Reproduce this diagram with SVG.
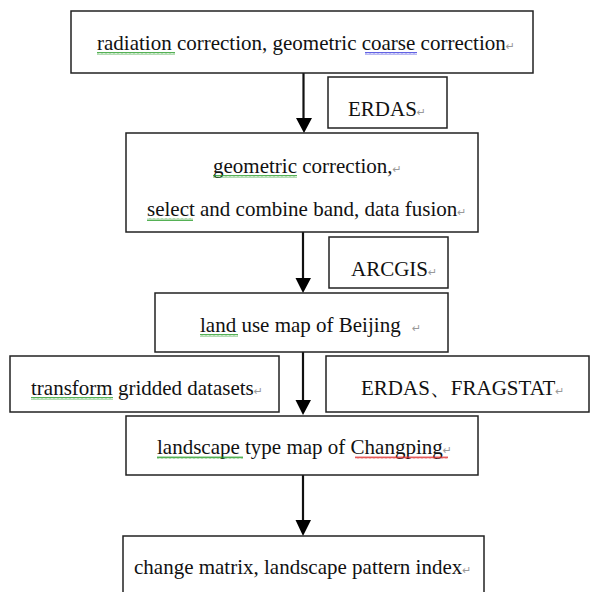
<svg xmlns="http://www.w3.org/2000/svg" width="590" height="592" viewBox="0 0 590 592">
<defs>
<style>
.box{fill:#fff;stroke:#222;stroke-width:1.5}
.t{font-family:"Liberation Serif","Times New Roman",serif;font-size:21px;fill:#111}
.pm{font-family:"DejaVu Sans",sans-serif;font-size:11px;fill:#999}
.ln{stroke:#111;stroke-width:2.2;fill:none}
</style>
<marker id="ah" viewBox="0 0 16 16" refX="8" refY="16" markerWidth="16" markerHeight="16" markerUnits="userSpaceOnUse" orient="auto">
<path d="M0,0 L16,0 L8,16 Z" fill="#000" transform="rotate(-90 8 8)"/>
</marker>
<pattern id="wg" width="4" height="3" patternUnits="userSpaceOnUse"><polyline points="0,2.5 1,0.5 2,2.5 3,0.5 4,2.5" fill="none" stroke="#2a9d2a" stroke-width="0.8"/></pattern>
<pattern id="wb" width="4" height="3" patternUnits="userSpaceOnUse"><polyline points="0,2.5 1,0.5 2,2.5 3,0.5 4,2.5" fill="none" stroke="#3b3bdd" stroke-width="0.8"/></pattern>
<pattern id="wr" width="4" height="3" patternUnits="userSpaceOnUse"><polyline points="0,2.5 1,0.5 2,2.5 3,0.5 4,2.5" fill="none" stroke="#e03030" stroke-width="0.8"/></pattern>
</defs>
<rect width="590" height="592" fill="#fff"/>

<g id="connectors">
<line class="ln" x1="303.5" y1="73" x2="303.5" y2="120"/><path d="M296,118 L312,118 L304,133 Z" fill="#000"/>
<line class="ln" x1="303" y1="232" x2="303" y2="280"/><path d="M295.5,278 L311,278 L303,293 Z" fill="#000"/>
<line class="ln" x1="303" y1="352" x2="303" y2="402"/><path d="M295.5,400 L311,400 L303,415 Z" fill="#000"/>
<line class="ln" x1="303" y1="475" x2="303" y2="522"/><path d="M295.5,520 L311,520 L303,536 Z" fill="#000"/>
</g>

<g id="n1">
<rect class="box" x="71" y="11" width="462" height="62"/>
<text class="t" x="97" y="50">radiation correction, geometric coarse correction<tspan class="pm">↵</tspan></text>
<rect x="97" y="52" width="78" height="3" fill="url(#wg)"/>
<rect x="365" y="52" width="52" height="3" fill="url(#wb)"/>
</g>

<g id="n_erdas">
<rect class="box" x="328" y="77" width="119" height="51"/>
<text class="t" x="348" y="116">ERDAS<tspan class="pm">↵</tspan></text>
</g>

<g id="n2">
<rect class="box" x="126" y="133" width="352" height="99"/>
<text class="t" x="213" y="173">geometric correction,<tspan class="pm">↵</tspan></text>
<text class="t" x="147" y="216">select and combine band, data fusion<tspan class="pm">↵</tspan></text>
<rect x="213" y="175" width="84" height="3" fill="url(#wg)"/>
<rect x="147" y="218" width="46" height="3" fill="url(#wg)"/>
</g>

<g id="n_arcgis">
<rect class="box" x="329" y="237" width="119" height="51"/>
<text class="t" x="351" y="276">ARCGIS<tspan class="pm">↵</tspan></text>
</g>

<g id="n3">
<rect class="box" x="155" y="293" width="293" height="59"/>
<text class="t" x="200" y="332">land use map of Beijing<tspan class="pm" x="412">↵</tspan></text>
<rect x="200" y="334" width="38" height="3" fill="url(#wg)"/>
</g>

<g id="n_transform">
<rect class="box" x="10" y="356" width="269" height="56"/>
<text class="t" x="31" y="395">transform gridded datasets<tspan class="pm">↵</tspan></text>
<rect x="31" y="397" width="82" height="3" fill="url(#wg)"/>
</g>

<g id="n_fragstat">
<rect class="box" x="326" y="356" width="263" height="56"/>
<text class="t" x="361" y="395">ERDAS、FRAGSTAT<tspan class="pm">↵</tspan></text>
</g>

<g id="n4">
<rect class="box" x="126" y="416" width="352" height="59"/>
<text class="t" x="157" y="454">landscape type map of Changping<tspan class="pm">↵</tspan></text>
<rect x="157" y="456" width="86" height="3" fill="url(#wg)"/>
<rect x="355" y="456" width="93" height="3" fill="url(#wr)"/>
</g>

<g id="n5">
<rect class="box" x="123" y="536" width="361" height="70"/>
<text class="t" x="134" y="574">change matrix, landscape pattern index<tspan class="pm">↵</tspan></text>
</g>
</svg>
